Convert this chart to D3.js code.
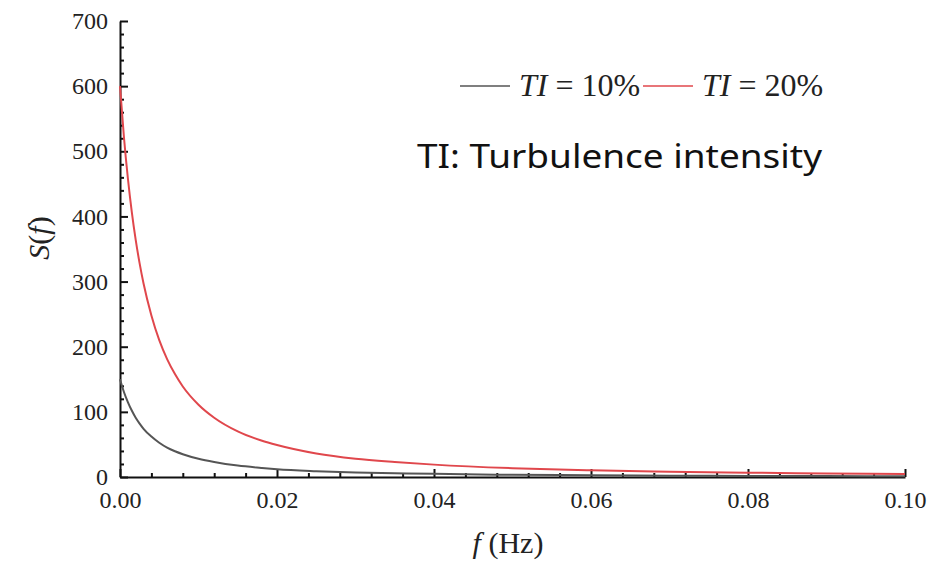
<html>
<head>
<meta charset="utf-8">
<title>S(f) spectrum</title>
<style>
  body { margin: 0; background: #fff; }
  .tick text { font-family: "Liberation Serif", "Times New Roman", serif; font-size: 24px; fill: #222; }
  .axis path, .axis line { stroke: #111; stroke-width: 2; }
  .minor path { stroke: none; }
  .minor line { stroke: #111; stroke-width: 2; }
  .serif { font-family: "Liberation Serif", "Times New Roman", serif; fill: #222; }
</style>
<script src="https://cdn.jsdelivr.net/npm/d3@7/dist/d3.min.js"></script>
</head>
<body>
<script>
// values
var freq = [0, 0.0005, 0.001, 0.0015, 0.002, 0.0025, 0.003, 0.004, 0.005, 0.006, 0.007, 0.008, 0.010,
            0.012, 0.015, 0.018, 0.020, 0.025, 0.030, 0.035, 0.040, 0.050, 0.060, 0.070, 0.080, 0.090, 0.100];
var ti10 = [150, 130.5, 115, 102, 91, 82, 74, 62, 52.5, 45, 39.5, 35, 28,
            23, 17.5, 14, 12, 9, 7, 5.8, 4.8, 3.4, 2.6, 2.0, 1.7, 1.4, 1.2];
var ti20 = [600, 522, 459, 407, 364, 328, 297, 248, 210, 181, 158, 139, 111,
            91, 70, 56, 49, 36, 28, 23, 19, 13.5, 10.2, 8.1, 6.6, 5.5, 4.6];
var seriesNames = ["10%", "20%"];
var seriesColors = ["#555555", "#e0474c"];
var xTicks = [0, 0.02, 0.04, 0.06, 0.08, 0.10];
var yTicks = [0, 100, 200, 300, 400, 500, 600, 700];

var width = 949, height = 562;
var margin = {top: 21, right: 44, bottom: 85, left: 120};

var svg = d3.select("body").append("svg")
  .attr("width", width).attr("height", height);

var x = d3.scaleLinear().domain([0, 0.1]).range([margin.left, width - margin.right]);
var y = d3.scaleLinear().domain([0, 700]).range([height - margin.bottom, margin.top]);

// minor ticks
var xMinor = d3.range(0, 0.1001, 0.004).filter(function(v){ return Math.abs(v / 0.02 - Math.round(v / 0.02)) > 1e-6; });
var yMinor = d3.range(0, 701, 20).filter(function(v){ return v % 100 != 0; });

svg.append("g").attr("class", "minor")
  .attr("transform", "translate(0," + y(0) + ")")
  .call(d3.axisBottom(x).tickValues(xMinor).tickSize(-4).tickFormat(""));
svg.append("g").attr("class", "minor")
  .attr("transform", "translate(" + x(0) + ",0)")
  .call(d3.axisLeft(y).tickValues(yMinor).tickSize(-4).tickFormat(""));

svg.append("g").attr("class", "axis")
  .attr("transform", "translate(0," + y(0) + ")")
  .call(d3.axisBottom(x).tickValues(xTicks).tickSizeInner(-8).tickSizeOuter(0).tickPadding(14)
    .tickFormat(d3.format(".2f")));
svg.append("g").attr("class", "axis")
  .attr("transform", "translate(" + x(0) + ",0)")
  .call(d3.axisLeft(y).tickValues(yTicks).tickSizeInner(-8).tickSizeOuter(0).tickPadding(12));

// curves
var line = d3.line()
  .x(function(d){ return x(d[0]); })
  .y(function(d){ return y(d[1]); })
  .curve(d3.curveMonotoneX);

[ti10, ti20].forEach(function(vals, i){
  svg.append("path")
    .datum(freq.map(function(f, j){ return [f, vals[j]]; }))
    .attr("d", line)
    .attr("fill", "none")
    .attr("stroke", seriesColors[i])
    .attr("stroke-width", 2);
});

// legend
var legendX = [460, 643];
seriesNames.forEach(function(name, i){
  svg.append("line")
    .attr("x1", legendX[i]).attr("x2", legendX[i] + 50)
    .attr("y1", 86).attr("y2", 86)
    .attr("stroke", seriesColors[i]).attr("stroke-width", 1.5);
  var t = svg.append("text").attr("class", "serif")
    .attr("x", legendX[i] + 59).attr("y", 96)
    .attr("font-size", 32);
  t.append("tspan").attr("font-style", "italic").text("TI");
  t.append("tspan").text(" = " + name);
});

svg.append("text")
  .attr("x", 417).attr("y", 168)
  .attr("font-family", "'Noto Sans', 'Open Sans', sans-serif")
  .attr("font-size", 33)
  .attr("textLength", 405).attr("lengthAdjust", "spacingAndGlyphs")
  .attr("fill", "#111")
  .text("TI: Turbulence intensity");

// axis titles
var yl = svg.append("text").attr("class", "serif")
  .attr("transform", "translate(49,238) rotate(-90)")
  .attr("text-anchor", "middle").attr("font-size", 30);
yl.append("tspan").attr("font-style", "italic").text("S");
yl.append("tspan").text("(");
yl.append("tspan").attr("font-style", "italic").text("f");
yl.append("tspan").text(")");

var xl = svg.append("text").attr("class", "serif")
  .attr("x", 508).attr("y", 553)
  .attr("text-anchor", "middle").attr("font-size", 30);
xl.append("tspan").attr("font-style", "italic").text("f");
xl.append("tspan").text(" (Hz)");
</script>
</body>
</html>
